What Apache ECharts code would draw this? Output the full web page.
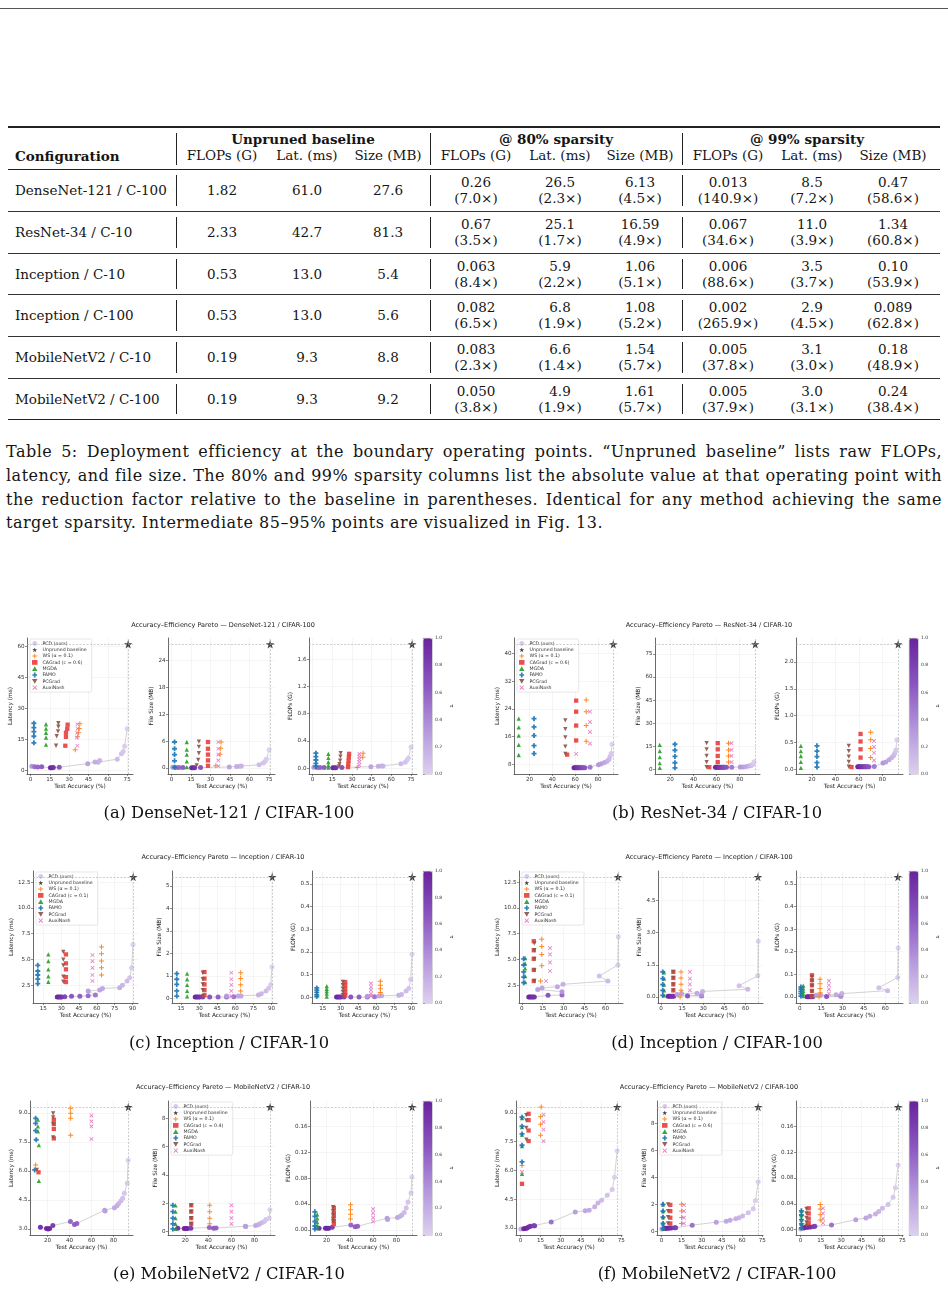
<!DOCTYPE html>
<html>
<head>
<meta charset="utf-8">
<script src="https://cdn.jsdelivr.net/npm/echarts@6/dist/echarts.min.js"></script>
<style>
  body { margin: 0; background: #fff; }
  #page { position: relative; width: 948px; height: 1292px; overflow: hidden; font-family: "DejaVu Serif", serif; color: #151515; }
  .hr { position: absolute; left: 8px; width: 932px; background: #222; }
  .vbar { position: absolute; width: 1px; background: #222; }
  .cell { position: absolute; transform: translate(-50%, -50%); white-space: nowrap; font-size: 13.5px; }
  .left { transform: translate(0, -50%); }
  .bold { font-weight: bold; }
  .cap { position: absolute; left: 6px; width: 936px; font-size: 16px; letter-spacing: 0.5px; line-height: 20px; text-align: justify; text-align-last: justify; white-space: nowrap; }
  .cap.last { text-align-last: left; }
  #chart { position: absolute; left: 0; top: 590px; width: 948px; height: 702px; }
</style>
</head>
<body>
<div id="page">
  <div style="position:absolute;left:0;top:8px;width:948px;height:1px;background:#555"></div>
  <div id="table"></div>
  <div class="cap" style="top:442px">Table 5: Deployment efficiency at the boundary operating points. “Unpruned baseline” lists raw FLOPs,</div>
  <div class="cap" style="top:466px">latency, and file size. The 80% and 99% sparsity columns list the absolute value at that operating point with</div>
  <div class="cap" style="top:490px">the reduction factor relative to the baseline in parentheses. Identical for any method achieving the same</div>
  <div class="cap last" style="top:513px">target sparsity. Intermediate 85–95% points are visualized in Fig. 13.</div>
  <div id="chart"></div>
</div>
<script>
// ---------- table values ----------
const configs = ['DenseNet-121 / C-100', 'ResNet-34 / C-10', 'Inception / C-10', 'Inception / C-100', 'MobileNetV2 / C-10', 'MobileNetV2 / C-100'];
const baseFlops = ['1.82', '2.33', '0.53', '0.53', '0.19', '0.19'];
const baseLat = ['61.0', '42.7', '13.0', '13.0', '9.3', '9.3'];
const baseSize = ['27.6', '81.3', '5.4', '5.6', '8.8', '9.2'];
const s80Flops = [['0.26', '7.0'], ['0.67', '3.5'], ['0.063', '8.4'], ['0.082', '6.5'], ['0.083', '2.3'], ['0.050', '3.8']];
const s80Lat = [['26.5', '2.3'], ['25.1', '1.7'], ['5.9', '2.2'], ['6.8', '1.9'], ['6.6', '1.4'], ['4.9', '1.9']];
const s80Size = [['6.13', '4.5'], ['16.59', '4.9'], ['1.06', '5.1'], ['1.08', '5.2'], ['1.54', '5.7'], ['1.61', '5.7']];
const s99Flops = [['0.013', '140.9'], ['0.067', '34.6'], ['0.006', '88.6'], ['0.002', '265.9'], ['0.005', '37.8'], ['0.005', '37.9']];
const s99Lat = [['8.5', '7.2'], ['11.0', '3.9'], ['3.5', '3.7'], ['2.9', '4.5'], ['3.1', '3.0'], ['3.0', '3.1']];
const s99Size = [['0.47', '58.6'], ['1.34', '60.8'], ['0.10', '53.9'], ['0.089', '62.8'], ['0.18', '48.9'], ['0.24', '38.4']];
const groupHeads = ['Unpruned baseline', '@ 80% sparsity', '@ 99% sparsity'];
const colHeads = ['FLOPs (G)', 'Lat. (ms)', 'Size (MB)'];

// ---------- figure data: PCD sweep (accuracy, latency, size, flops, tau) ----------
const aAcc = [1.0, 3.3, 5.6, 8.7, 15.4, 16.7, 17.7, 22.3, 44.4, 50.0, 52.4, 53.7, 67.3, 70.6, 72.0, 73.0, 75.0];
const aLat = [1.8, 1.6, 1.5, 1.6, 1.1, 1.1, 1.2, 1.4, 3.1, 3.9, 3.8, 4.7, 5.3, 7.9, 9.0, 11.5, 20.0];
const aSize = [0.15, 0.12, 0.1, 0.12, 0.05, 0.05, 0.06, 0.1, 0.25, 0.35, 0.4, 0.45, 0.75, 1.1, 1.5, 2.0, 4.1];
const aFlops = [0.012, 0.01, 0.008, 0.01, 0.005, 0.005, 0.006, 0.009, 0.022, 0.028, 0.03, 0.033, 0.065, 0.085, 0.12, 0.15, 0.31];
const aTau = [0.35, 0.55, 0.6, 0.65, 0.95, 1.0, 0.9, 0.72, 0.28, 0.22, 0.2, 0.17, 0.12, 0.09, 0.06, 0.03, 0.0];
const aBase = [75.8, 61.0, 27.6, 1.82];

const bAcc = [59, 60, 61, 62, 63, 64, 65, 66, 67, 68.5, 73.1, 80.5, 82.9, 85.7, 88.0, 89.6, 90.6, 91.5, 92.3];
const bLat = [7.0, 7.0, 7.0, 7.0, 7.0, 7.0, 7.0, 7.0, 7.0, 7.05, 7.2, 7.9, 8.2, 8.5, 8.9, 9.4, 10.3, 11.1, 13.8];
const bSize = [1.4, 1.4, 1.4, 1.4, 1.4, 1.4, 1.4, 1.4, 1.4, 1.45, 1.5, 1.6, 1.7, 1.9, 2.2, 2.6, 3.0, 3.6, 5.0];
const bFlops = [0.05, 0.05, 0.05, 0.05, 0.05, 0.05, 0.05, 0.05, 0.05, 0.05, 0.055, 0.12, 0.14, 0.18, 0.22, 0.26, 0.3, 0.36, 0.55];
const bTau = [1.0, 0.97, 0.94, 0.9, 0.87, 0.83, 0.8, 0.76, 0.72, 0.68, 0.5, 0.35, 0.3, 0.25, 0.2, 0.15, 0.1, 0.05, 0.0];
const bBase = [93.4, 42.7, 81.3, 2.33];

const cAcc = [26.7, 28.0, 29.2, 30.4, 33.0, 38.7, 45.7, 52.7, 58.8, 52.7, 62.5, 64.7, 79.2, 81.5, 85.4, 87.6, 89.3, 90.4];
const cLat = [1.37, 1.37, 1.37, 1.37, 1.4, 1.44, 1.44, 1.5, 1.56, 1.95, 2.05, 2.2, 2.27, 2.5, 2.92, 3.24, 4.2, 6.47];
const cSize = [0.06, 0.06, 0.06, 0.06, 0.06, 0.06, 0.06, 0.06, 0.07, 0.1, 0.1, 0.11, 0.15, 0.2, 0.33, 0.45, 0.6, 1.4];
const cFlops = [0.001, 0.001, 0.001, 0.001, 0.001, 0.001, 0.001, 0.001, 0.002, 0.004, 0.005, 0.006, 0.009, 0.012, 0.027, 0.038, 0.078, 0.19];
const cTau = [1.0, 0.96, 0.92, 0.88, 0.8, 0.72, 0.65, 0.58, 0.52, 0.3, 0.27, 0.24, 0.2, 0.16, 0.12, 0.08, 0.04, 0.0];
const cBase = [90.6, 13.0, 5.4, 0.53];

const dAcc = [5, 6, 7, 8, 9, 18.8, 28.8, 28.8, 11.4, 14.5, 25.5, 29.5, 61.7, 55.5, 68.8, 69.1];
const dLat = [1.37, 1.37, 1.37, 1.37, 1.37, 1.53, 1.56, 1.89, 2.1, 2.25, 2.37, 2.6, 2.92, 3.4, 4.47, 7.2];
const dSize = [0.03, 0.03, 0.03, 0.03, 0.03, 0.05, 0.05, 0.08, 0.12, 0.16, 0.18, 0.26, 0.36, 0.53, 0.99, 2.6];
const dFlops = [0.001, 0.001, 0.001, 0.001, 0.001, 0.002, 0.003, 0.006, 0.008, 0.009, 0.01, 0.015, 0.028, 0.041, 0.086, 0.216];
const dTau = [1.0, 0.97, 0.94, 0.91, 0.88, 0.7, 0.6, 0.35, 0.3, 0.27, 0.24, 0.2, 0.15, 0.1, 0.05, 0.0];
const dBase = [68.9, 13.0, 5.6, 0.53];

const eAcc = [13.6, 19.1, 20.6, 22.0, 24.9, 40.9, 44.6, 46.7, 72.0, 72.4, 80.9, 83.2, 84.6, 86.7, 88.4, 89.9, 92.5, 93.3];
const eLat = [3.09, 3.02, 3.0, 3.02, 3.17, 3.38, 3.23, 3.28, 3.97, 3.92, 4.1, 4.2, 4.3, 4.44, 4.58, 4.84, 5.36, 6.55];
const eSize = [0.24, 0.22, 0.22, 0.22, 0.24, 0.29, 0.24, 0.25, 0.38, 0.36, 0.43, 0.48, 0.55, 0.64, 0.72, 0.85, 0.95, 1.55];
const eFlops = [0.0026, 0.0025, 0.0025, 0.0025, 0.004, 0.0077, 0.005, 0.0055, 0.018, 0.016, 0.019, 0.021, 0.023, 0.027, 0.034, 0.043, 0.057, 0.082];
const eTau = [0.95, 1.0, 0.98, 0.96, 0.85, 0.6, 0.65, 0.62, 0.3, 0.28, 0.25, 0.22, 0.18, 0.14, 0.1, 0.07, 0.04, 0.0];
const eBase = [93.5, 9.3, 8.8, 0.19];

const fAcc = [0.3, 2.4, 3.7, 4.9, 6.1, 7.4, 9.8, 10.6, 22.9, 40.8, 48.2, 51.1, 55.3, 57.7, 60.4, 64.6, 68.3, 70.0, 72.0];
const fLat = [2.95, 2.96, 2.97, 3.0, 3.05, 3.09, 3.12, 3.12, 3.31, 3.83, 3.9, 3.92, 4.1, 4.3, 4.44, 4.7, 5.0, 5.64, 7.03];
const fSize = [0.17, 0.2, 0.21, 0.22, 0.23, 0.24, 0.25, 0.26, 0.45, 0.67, 0.74, 0.82, 0.92, 0.99, 1.12, 1.36, 1.66, 2.28, 3.67];
const fFlops = [0.001, 0.0026, 0.0036, 0.0036, 0.0038, 0.004, 0.0046, 0.005, 0.0072, 0.0154, 0.018, 0.0205, 0.024, 0.028, 0.033, 0.039, 0.05, 0.065, 0.1];
const fTau = [0.2, 0.95, 1.0, 0.97, 0.93, 0.9, 0.85, 0.8, 0.55, 0.3, 0.26, 0.23, 0.2, 0.17, 0.14, 0.1, 0.06, 0.03, 0.0];
const fBase = [72.0, 9.3, 9.2, 0.19];

// ---------- baselines: [accuracy, value] per method, order WS, CAGrad, MGDA, FAMO, PCGrad, AuxiNash ----------
const aLatM = [
  [[38.3, 22.5], [37.8, 20.2], [37.3, 18.1], [36.5, 16.1], [34.7, 9.9]],
  [[28.8, 22.0], [28.5, 20.0], [27.5, 18.1], [27.5, 16.1], [27.0, 11.8]],
  [[12.0, 22.2], [12.0, 20.1], [12.0, 18.1], [12.0, 15.8], [12.0, 12.3]],
  [[2.6, 22.7], [2.6, 20.6], [2.6, 18.6], [2.6, 16.4], [2.6, 13.2]],
  [[21.6, 22.7], [21.6, 21.0], [21.3, 18.8], [20.3, 16.4], [19.8, 11.8]],
  [[36.4, 22.2], [36.6, 20.1], [36.2, 18.1], [36.0, 15.8], [36.4, 11.8]]
];
const aSizeM = [
  [[38.1, 5.8], [37.8, 4.4], [37.3, 3.1], [34.0, 0.5]],
  [[28.0, 5.8], [28.0, 4.3], [28.0, 3.0], [28.0, 1.7], [28.0, 0.5]],
  [[11.7, 5.8], [11.7, 4.1], [11.7, 3.0], [11.7, 1.5], [11.7, 0.2]],
  [[2.3, 5.8], [2.3, 4.3], [2.3, 3.0], [2.3, 1.6], [2.3, 0.15]],
  [[21.0, 5.9], [21.0, 4.7], [21.0, 3.3], [20.5, 1.8], [19.3, 0.6]],
  [[36.0, 5.8], [36.0, 4.3], [36.0, 3.0], [36.0, 1.7], [36.0, 0.45]]
];
const aFlopsM = [
  [[38.5, 0.22], [38.2, 0.16], [34.0, 0.01]],
  [[27.8, 0.21], [27.6, 0.16], [27.4, 0.11], [27.2, 0.06], [27.0, 0.015]],
  [[12.0, 0.21], [12.0, 0.15], [12.0, 0.09], [12.0, 0.04], [12.0, 0.01]],
  [[2.5, 0.22], [2.5, 0.17], [2.5, 0.12], [2.5, 0.07], [2.5, 0.025]],
  [[21.4, 0.22], [21.2, 0.17], [21.0, 0.11], [20.5, 0.06], [20.0, 0.025]],
  [[35.6, 0.21], [35.6, 0.17], [35.6, 0.13], [35.6, 0.09], [35.6, 0.045]]
];

const bLatM = [
  [[69.7, 26.6], [69.7, 23.2], [69.7, 19.2], [69.7, 14.7]],
  [[60.9, 26.4], [60.9, 23.2], [60.9, 19.2], [60.9, 14.9], [53.0, 10.8]],
  [[10.6, 21.2], [10.6, 18.7], [10.6, 16.3], [10.6, 13.6], [10.6, 10.7]],
  [[24.0, 21.2], [24.0, 18.8], [24.0, 16.3], [24.0, 13.4], [24.0, 11.1]],
  [[51.4, 20.7], [51.4, 18.2], [51.4, 15.8], [51.4, 13.1], [51.4, 11.0]],
  [[73.0, 23.2], [73.0, 20.2], [73.0, 17.4], [73.0, 14.0], [60.9, 11.0]]
];
const bSizeM = [
  [[70.3, 17.1], [70.3, 12.7], [70.3, 8.8], [70.3, 4.8]],
  [[61.0, 17.1], [61.0, 13.1], [61.0, 8.8], [61.0, 4.8], [53.7, 1.5]],
  [[10.9, 16.0], [10.9, 12.0], [10.9, 8.1], [10.9, 4.2], [10.9, 1.1]],
  [[24.0, 16.4], [24.0, 12.5], [24.0, 8.5], [24.0, 4.4], [24.0, 1.1]],
  [[51.4, 17.1], [51.4, 13.1], [51.4, 8.8], [51.4, 4.8], [51.4, 1.5]],
  [[72.9, 17.1], [72.9, 12.7], [72.9, 8.8], [72.9, 4.8]]
];
const bFlopsM = [
  [[70.0, 0.69], [70.0, 0.55], [70.0, 0.39], [70.0, 0.22]],
  [[61.4, 0.66], [61.4, 0.52], [61.4, 0.375], [61.4, 0.22], [53.7, 0.044]],
  [[10.6, 0.44], [10.6, 0.34], [10.6, 0.25], [10.6, 0.14], [10.6, 0.03]],
  [[24.3, 0.44], [24.3, 0.34], [24.3, 0.24], [24.3, 0.125], [24.3, 0.044]],
  [[51.4, 0.44], [51.4, 0.34], [51.4, 0.24], [51.4, 0.14], [51.4, 0.05]],
  [[72.9, 0.53], [72.9, 0.42], [72.9, 0.31], [72.9, 0.17]]
];

const cLatM = [
  [[63.9, 6.21], [63.9, 5.56], [63.9, 4.85], [63.9, 4.2], [63.9, 3.5]],
  [[34.0, 5.5], [34.0, 4.63], [34.0, 4.05], [34.0, 3.3], [34.0, 2.82]],
  [[19.2, 5.5], [19.2, 4.85], [19.2, 4.05], [19.2, 3.37], [19.2, 2.85]],
  [[10.3, 4.44], [10.3, 3.89], [10.3, 3.5], [10.3, 3.1], [10.3, 2.66]],
  [[31.8, 5.73], [31.8, 5.0], [31.8, 4.44], [31.8, 3.34], [31.8, 2.85]],
  [[56.3, 5.44], [56.3, 4.85], [56.3, 4.2], [56.3, 3.5], [56.3, 2.92]]
];
const cSizeM = [
  [[64.4, 1.14], [64.4, 0.88], [64.4, 0.6], [64.4, 0.33]],
  [[34.4, 1.17], [34.4, 0.88], [34.4, 0.62], [34.4, 0.37], [34.4, 0.15]],
  [[20.0, 1.1], [20.0, 0.85], [20.0, 0.6], [20.0, 0.33], [20.0, 0.09]],
  [[11.4, 1.1], [11.4, 0.85], [11.4, 0.62], [11.4, 0.33], [11.4, 0.1]],
  [[33.0, 1.14], [33.0, 0.85], [33.0, 0.62], [33.0, 0.37], [33.0, 0.1]],
  [[56.7, 1.14], [56.7, 0.85], [56.7, 0.6], [56.7, 0.33], [56.7, 0.1]]
];
const cFlopsM = [
  [[63.7, 0.07], [63.7, 0.053], [63.7, 0.037], [63.7, 0.021]],
  [[34.0, 0.067], [34.0, 0.052], [34.0, 0.037], [34.0, 0.022], [34.0, 0.009]],
  [[18.4, 0.049], [18.4, 0.037], [18.4, 0.027], [18.4, 0.016], [18.4, 0.003]],
  [[10.0, 0.041], [10.0, 0.031], [10.0, 0.021], [10.0, 0.01], [10.0, 0.003]],
  [[32.0, 0.068], [32.0, 0.053], [32.0, 0.038], [32.0, 0.024], [32.0, 0.009]],
  [[55.8, 0.061], [55.8, 0.046], [55.8, 0.031], [55.8, 0.016], [55.8, 0.006]]
];

const dLatM = [
  [[14.3, 6.97], [14.3, 6.27], [14.3, 5.5], [14.3, 4.4], [13.5, 2.92]],
  [[8.6, 6.78], [8.6, 5.9], [8.6, 5.07], [8.6, 4.0], [8.6, 2.92]],
  [[2.4, 5.15], [2.4, 4.63], [2.4, 4.15], [2.4, 3.4], [2.4, 2.82]],
  [[1.4, 5.07], [1.4, 4.47], [1.4, 3.8], [1.4, 3.3], [1.4, 2.76]],
  [[9.0, 6.56], [9.0, 5.9], [9.0, 5.07], [9.0, 3.95], [9.0, 2.92]],
  [[20.2, 6.1], [20.2, 5.5], [20.2, 4.72], [20.2, 3.89], [17.4, 2.92]]
];
const dSizeM = [
  [[14.2, 1.17], [14.2, 0.89], [14.2, 0.59], [14.2, 0.31], [13.5, 0.0]],
  [[8.7, 1.17], [8.7, 0.89], [8.7, 0.59], [8.7, 0.31]],
  [[2.1, 1.15], [2.1, 0.86], [2.1, 0.58], [2.1, 0.31], [2.1, 0.08]],
  [[1.2, 1.17], [1.2, 0.86], [1.2, 0.58], [1.2, 0.31], [1.2, 0.08]],
  [[8.7, 1.17], [8.7, 0.89], [8.7, 0.59], [8.7, 0.31]],
  [[20.5, 1.17], [20.5, 0.86], [20.5, 0.59], [20.5, 0.31]]
];
const dFlopsM = [
  [[14.2, 0.078], [14.2, 0.059], [14.2, 0.038], [14.2, 0.019], [13.5, 0.0]],
  [[8.5, 0.096], [8.5, 0.074], [8.5, 0.052], [8.5, 0.027], [8.5, 0.004]],
  [[2.4, 0.05], [2.4, 0.038], [2.4, 0.027], [2.4, 0.015], [2.4, 0.004]],
  [[0.7, 0.044], [0.7, 0.035], [0.7, 0.025], [0.7, 0.015], [0.7, 0.004]],
  [[8.5, 0.089], [8.5, 0.071], [8.5, 0.049], [8.5, 0.024], [8.5, 0.004]],
  [[20.4, 0.071], [20.4, 0.052], [20.4, 0.034], [20.4, 0.015]]
];

const eLatM = [
  [[9.3, 6.31], [41.1, 9.24], [41.1, 8.98], [41.1, 8.72], [41.1, 7.85]],
  [[25.8, 8.65], [25.8, 8.43], [25.8, 8.17], [25.8, 7.68], [11.9, 5.93]],
  [[11.3, 8.65], [11.3, 8.3], [11.3, 8.05], [12.2, 7.33], [12.2, 5.48]],
  [[9.3, 8.72], [9.3, 8.46], [9.3, 8.08], [9.8, 7.61], [8.4, 6.05]],
  [[25.2, 8.98], [25.2, 8.77], [25.2, 8.43], [25.2, 7.73], [10.4, 6.05]],
  [[60.0, 8.86], [60.0, 8.56], [60.0, 8.3], [60.0, 7.65]]
];
const eSizeM = [
  [[41.2, 1.86], [41.2, 1.41], [41.2, 0.95], [41.2, 0.55]],
  [[25.2, 1.86], [25.2, 1.41], [25.2, 0.95], [25.2, 0.55]],
  [[11.6, 1.86], [11.6, 1.41], [11.6, 0.95], [11.6, 0.55], [11.6, 0.19]],
  [[9.3, 1.86], [9.3, 1.41], [9.3, 0.95], [9.3, 0.55], [9.3, 0.19]],
  [[25.2, 1.86], [25.2, 1.41], [25.2, 0.95], [25.2, 0.55]],
  [[60.0, 1.86], [60.0, 1.41], [60.0, 0.95], [60.0, 0.55]]
];
const eFlopsM = [
  [[40.6, 0.039], [40.6, 0.031], [40.6, 0.024], [40.6, 0.017]],
  [[26.3, 0.034], [26.3, 0.027], [26.3, 0.021], [26.3, 0.014], [26.3, 0.009]],
  [[12.0, 0.024], [12.0, 0.018], [12.0, 0.012], [12.0, 0.007], [12.0, 0.0026]],
  [[10.0, 0.028], [10.0, 0.021], [10.0, 0.013], [10.0, 0.006], [10.0, 0.0015]],
  [[25.7, 0.035], [25.7, 0.029], [25.7, 0.023], [25.7, 0.017], [25.7, 0.013]],
  [[60.0, 0.032], [60.0, 0.026], [60.0, 0.019], [60.0, 0.013]]
];

const fLatM = [
  [[1.2, 6.26], [15.5, 9.3], [15.0, 8.79], [15.0, 8.4], [15.0, 7.83]],
  [[6.1, 8.95], [6.1, 8.62], [6.1, 8.08], [6.1, 7.53], [1.2, 5.3]],
  [[1.2, 8.72], [1.2, 8.26], [1.2, 7.87], [1.2, 7.27], [1.2, 5.82]],
  [[1.2, 8.77], [1.2, 8.3], [1.2, 7.9], [1.2, 7.31], [1.2, 6.44]],
  [[4.4, 8.88], [4.4, 8.6], [4.4, 8.22], [4.4, 7.6]],
  [[17.2, 8.91], [17.2, 8.53], [17.2, 8.13], [17.2, 7.53], [1.2, 5.92]]
];
const fSizeM = [
  [[15.0, 1.99], [15.0, 1.49], [15.0, 1.02], [15.0, 0.57]],
  [[6.6, 1.95], [6.6, 1.49], [6.6, 1.0], [6.6, 0.57]],
  [[1.2, 1.99], [1.2, 1.49], [1.2, 1.04], [1.2, 0.57], [1.2, 0.2]],
  [[1.2, 1.99], [1.2, 1.49], [1.2, 1.04], [1.2, 0.57], [1.2, 0.2]],
  [[4.9, 1.99], [4.9, 1.49], [4.9, 1.04], [4.9, 0.57]],
  [[16.8, 1.95], [16.8, 1.49], [16.8, 1.0], [16.8, 0.57]]
];
const fFlopsM = [
  [[14.6, 0.039], [14.6, 0.032], [14.6, 0.023], [14.6, 0.015]],
  [[6.1, 0.033], [6.1, 0.025], [6.1, 0.017], [6.1, 0.01]],
  [[0.7, 0.029], [0.7, 0.0226], [0.7, 0.0154], [0.7, 0.0087], [0.7, 0.0026]],
  [[0.7, 0.029], [0.7, 0.0226], [0.7, 0.0154], [0.7, 0.0087], [0.7, 0.0026]],
  [[4.4, 0.032], [4.4, 0.025], [4.4, 0.018], [4.4, 0.011], [4.4, 0.006]],
  [[16.6, 0.033], [16.6, 0.025], [16.6, 0.017], [16.6, 0.01]]
];

// ---------- tick labels ----------
const aXTicks = ['0', '15', '30', '45', '60', '75'];
const aYTicks = [['0', '15', '30', '45', '60'], ['0', '6', '12', '18', '24'], ['0.0', '0.4', '0.8', '1.2', '1.6']];
const bXTicks = ['20', '40', '60', '80'];
const bYTicks = [['8', '16', '24', '32', '40'], ['0', '15', '30', '45', '60', '75'], ['0.0', '0.5', '1.0', '1.5', '2.0']];
const cXTicks = ['15', '30', '45', '60', '75', '90'];
const cYTicks = [['2.5', '5.0', '7.5', '10.0', '12.5'], ['0', '1', '2', '3', '4', '5'], ['0.0', '0.1', '0.2', '0.3', '0.4', '0.5']];
const dXTicks = ['0', '15', '30', '45', '60'];
const dYTicks = [['2.5', '5.0', '7.5', '10.0', '12.5'], ['0.0', '1.5', '3.0', '4.5'], ['0.0', '0.1', '0.2', '0.3', '0.4', '0.5']];
const eXTicks = ['20', '40', '60', '80'];
const eYTicks = [['3.0', '4.5', '6.0', '7.5', '9.0'], ['0', '2', '4', '6', '8'], ['0.00', '0.04', '0.08', '0.12', '0.16']];
const fXTicks = ['0', '15', '30', '45', '60', '75'];
const fYTicks = [['3.0', '4.5', '6.0', '7.5', '9.0'], ['0', '2', '4', '6', '8'], ['0.00', '0.04', '0.08', '0.12', '0.16']];
const cbTicks = ['0.0', '0.2', '0.4', '0.6', '0.8', '1.0'];

// ---------- table ----------
const table = document.getElementById('table');
const add = (cls, style, text) => {
  const d = document.createElement('div');
  d.className = cls;
  Object.assign(d.style, style);
  if (text !== undefined) d.textContent = text;
  table.appendChild(d);
};
const COLX = [222, 307, 388, 476, 560, 640, 728, 812, 893];
const GROUPX = [303, 556, 807];
const BARX = [176, 430, 682];
const RULES = [169, 211, 253, 294, 336, 378, 419];

add('hr', { top: '126px', height: '1.6px' });
add('hr', { top: '168.5px', height: '1px' });
RULES.slice(1, -1).forEach(y => add('hr', { top: y + 'px', height: '1px', background: '#333' }));
add('hr', { top: '419px', height: '1.4px' });

groupHeads.forEach((t, i) => add('cell bold', { left: GROUPX[i] + 'px', top: '139px' }, t));
add('cell left bold', { left: '15px', top: '156px' }, 'Configuration');
COLX.forEach((x, i) => add('cell', { left: x + 'px', top: '155px' }, colHeads[i % 3]));
BARX.forEach(x => add('vbar', { left: x + 'px', top: '133px', height: '32px' }));

configs.forEach((name, r) => {
  const y0 = RULES[r], y1 = RULES[r + 1], mid = (y0 + y1) / 2;
  add('cell left', { left: '15px', top: mid + 'px' }, name);
  BARX.forEach(x => add('vbar', { left: x + 'px', top: (y0 + 6) + 'px', height: (y1 - y0 - 11) + 'px' }));
  [baseFlops, baseLat, baseSize].forEach((arr, i) => add('cell', { left: COLX[i] + 'px', top: mid + 'px' }, arr[r]));
  [s80Flops, s80Lat, s80Size, s99Flops, s99Lat, s99Size].forEach((arr, i) => {
    add('cell', { left: COLX[i + 3] + 'px', top: (mid - 8) + 'px' }, arr[r][0]);
    add('cell', { left: COLX[i + 3] + 'px', top: (mid + 8) + 'px' }, '(' + arr[r][1] + '×)');
  });
});

// ---------- figure ----------
const STAR = 'path://M50,0L61.2,34.5L97.6,34.5L68.2,55.9L79.4,90.5L50,69.1L20.6,90.5L31.8,55.9L2.4,34.5L38.8,34.5Z';
const PLUS = 'path://M40,0H60V40H100V60H60V100H40V60H0V40H40Z';
const FAT_PLUS = 'path://M32,0H68V32H100V68H68V100H32V68H0V32H32Z';
const TRI_DOWN = 'path://M0,0H100L50,87Z';
const CROSS = 'path://M14,0L50,36L86,0L100,14L64,50L100,86L86,100L50,64L14,100L0,86L36,50L0,14Z';

const METHODS = [
  { name: () => 'WS (α = 0.1)', symbol: PLUS, color: '#ff7f0e', size: 5 },
  { name: c => `CAGrad (c = ${c})`, symbol: 'rect', color: '#e8423f', size: 4.3 },
  { name: () => 'MGDA', symbol: 'triangle', color: '#2ca02c', size: 4.3 },
  { name: () => 'FAMO', symbol: FAT_PLUS, color: '#1f77b4', size: 5 },
  { name: () => 'PCGrad', symbol: TRI_DOWN, color: '#8c564b', size: 4.3 },
  { name: () => 'AuxiNash', symbol: CROSS, color: '#e377c2', size: 4.2 }
];
const Y_NAMES = ['Latency (ms)', 'File Size (MB)', 'FLOPs (G)'];
const PURPLES = ['#ddd0f0', '#b496dc', '#8a55bf', '#6a229e'];

const ROWS = [
  { top: 48, h: 136, title: 35, cap: 224 },
  { top: 281, h: 132, title: 267, cap: 454 },
  { top: 511, h: 134, title: 497, cap: 685 }
];

const FIGS = [
  { tag: '(a) DenseNet-121 / CIFAR-100', title: 'DenseNet-121 / CIFAR-100', c: '0.6', acc: aAcc, tau: aTau, vals: [aLat, aSize, aFlops], base: aBase, methods: [aLatM, aSizeM, aFlopsM], xTicks: aXTicks, yTicks: aYTicks, panels: [[27, 133], [168, 275], [309, 417]], cb: 423, legendPanel: 0 },
  { tag: '(b) ResNet-34 / CIFAR-10', title: 'ResNet-34 / CIFAR-10', c: '0.6', acc: bAcc, tau: bTau, vals: [bLat, bSize, bFlops], base: bBase, methods: [bLatM, bSizeM, bFlopsM], xTicks: bXTicks, yTicks: bYTicks, panels: [[514, 618], [655, 760], [796, 903]], cb: 909, legendPanel: 0 },
  { tag: '(c) Inception / CIFAR-10', title: 'Inception / CIFAR-10', c: '0.1', acc: cAcc, tau: cTau, vals: [cLat, cSize, cFlops], base: cBase, methods: [cLatM, cSizeM, cFlopsM], xTicks: cXTicks, yTicks: cYTicks, panels: [[33, 138], [172, 277], [312, 417]], cb: 423, legendPanel: 0 },
  { tag: '(d) Inception / CIFAR-100', title: 'Inception / CIFAR-100', c: '0.1', acc: dAcc, tau: dTau, vals: [dLat, dSize, dFlops], base: dBase, methods: [dLatM, dSizeM, dFlopsM], xTicks: dXTicks, yTicks: dYTicks, panels: [[519, 623], [658, 763], [796, 903]], cb: 909, legendPanel: 0 },
  { tag: '(e) MobileNetV2 / CIFAR-10', title: 'MobileNetV2 / CIFAR-10', c: '0.4', acc: eAcc, tau: eTau, vals: [eLat, eSize, eFlops], base: eBase, methods: [eLatM, eSizeM, eFlopsM], xTicks: eXTicks, yTicks: eYTicks, panels: [[30, 133], [168, 275], [310, 417]], cb: 423, legendPanel: 1 },
  { tag: '(f) MobileNetV2 / CIFAR-100', title: 'MobileNetV2 / CIFAR-100', c: '0.6', acc: fAcc, tau: fTau, vals: [fLat, fSize, fFlops], base: fBase, methods: [fLatM, fSizeM, fFlopsM], xTicks: fXTicks, yTicks: fYTicks, panels: [[516, 622], [657, 763], [796, 903]], cb: 909, legendPanel: 1 }
];

// matplotlib-style autoscale: data range plus 5% on each side
const pad = (vals) => {
  const lo = Math.min(...vals), hi = Math.max(...vals), m = (hi - lo) * 0.05;
  return [lo - m, hi + m];
};
const labelFor = (labels) => (v) => labels.find(s => Math.abs(parseFloat(s) - v) < 1e-9) || '';

const option = {
  animation: false,
  textStyle: { fontFamily: 'DejaVu Sans' },
  grid: [], xAxis: [], yAxis: [], series: [], visualMap: [], legend: [], graphic: []
};

FIGS.forEach((f, fi) => {
  const row = ROWS[Math.floor(fi / 2)];
  const right = fi % 2 === 1;
  const pcdIdx = [];

  option.graphic.push({
    type: 'text', x: right ? 709 : 223, y: row.title,
    style: { text: 'Accuracy–Efficiency Pareto — ' + f.title, fontSize: 6.5, fill: '#222', fontFamily: 'DejaVu Sans', align: 'center', verticalAlign: 'middle' }
  });
  option.graphic.push({
    type: 'text', x: right ? 717 : 229, y: row.cap,
    style: { text: f.tag, fontSize: 16.3, fill: '#111', fontFamily: 'DejaVu Serif', align: 'center', verticalAlign: 'middle' }
  });

  f.panels.forEach(([x0, x1], pi) => {
    const gi = option.grid.length;
    const vals = f.vals[pi];
    const pcd = f.acc.map((a, i) => [a, vals[i], f.tau[i]]);
    const meth = f.methods[pi];
    const xs = [...f.acc, f.base[0], ...meth.flat().map(p => p[0])];
    const ys = [...vals, f.base[pi + 1], ...meth.flat().map(p => p[1])];
    const [xmin, xmax] = pad(xs);
    const [ymin, ymax] = pad(ys);
    const xt = f.xTicks.map(Number), yl = f.yTicks[pi], yt = yl.map(Number);
    const maxLen = Math.max(...yl.map(s => s.length));

    option.grid.push({ left: x0, top: row.top, width: x1 - x0, height: row.h, show: false });
    option.xAxis.push({
      gridIndex: gi, type: 'value', min: xmin, max: xmax,
      axisLine: { show: true, onZero: false, lineStyle: { color: '#444', width: 0.8 } },
      axisTick: { show: true, length: 2, customValues: xt, lineStyle: { color: '#444', width: 0.6 } },
      axisLabel: { customValues: xt, formatter: labelFor(f.xTicks), fontSize: 5.6, color: '#333', margin: 2.5 },
      splitLine: { show: true, lineStyle: { color: '#ebebeb', width: 0.5 } },
      name: 'Test Accuracy (%)', nameLocation: 'middle', nameGap: 9,
      nameTextStyle: { fontSize: 5.8, color: '#222', verticalAlign: 'top' }
    });
    option.yAxis.push({
      gridIndex: gi, type: 'value', min: ymin, max: ymax,
      axisLine: { show: true, onZero: false, lineStyle: { color: '#444', width: 0.8 } },
      axisTick: { show: true, length: 2, customValues: yt, lineStyle: { color: '#444', width: 0.6 } },
      axisLabel: { customValues: yt, formatter: labelFor(yl), fontSize: 5.6, color: '#333', margin: 2.5 },
      splitLine: { show: true, lineStyle: { color: '#ebebeb', width: 0.5 } },
      name: Y_NAMES[pi], nameLocation: 'middle', nameGap: 6 + 3 * maxLen,
      nameTextStyle: { fontSize: 5.8, color: '#222' }
    });

    const ax = { xAxisIndex: gi, yAxisIndex: gi };
    option.series.push({
      ...ax, type: 'line', name: 'PCD path', data: pcd, showSymbol: false, silent: true,
      lineStyle: { color: '#cdcdcd', width: 0.9 }, z: 1
    });
    pcdIdx.push(option.series.length);
    option.series.push({
      ...ax, type: 'scatter', name: 'PCD (ours)', data: pcd, symbolSize: 5,
      itemStyle: { color: '#d6c5ec', opacity: 0.95 }, z: 2
    });
    option.series.push({
      ...ax, type: 'scatter', name: 'Unpruned baseline', data: [[f.base[0], f.base[pi + 1]]],
      symbol: STAR, symbolSize: 8.5, itemStyle: { color: '#111' }, z: 4,
      markLine: {
        silent: true, symbol: 'none', label: { show: false },
        lineStyle: { color: '#aaaaaa', type: [2, 1.5], width: 0.6 },
        data: [{ yAxis: f.base[pi + 1] }, { xAxis: f.base[0] }]
      }
    });
    METHODS.forEach((m, mi) => {
      option.series.push({
        ...ax, type: 'scatter', name: m.name(f.c), data: meth[mi], symbol: m.symbol,
        symbolSize: m.size, itemStyle: { color: m.color, opacity: 0.92 }, z: 3
      });
    });

    if (pi === f.legendPanel) {
      option.legend.push({
        orient: 'vertical', left: x0 + 3, top: row.top + 1, selectedMode: false,
        data: [
          { name: 'PCD (ours)', itemStyle: { color: '#d6c5ec' } },
          'Unpruned baseline', ...METHODS.map(m => m.name(f.c))
        ],
        itemWidth: 5.5, itemHeight: 4.8, itemGap: 1.3,
        textStyle: { fontSize: 4.7, color: '#333' },
        backgroundColor: 'rgba(255,255,255,0.9)', borderColor: '#cfcfcf', borderWidth: 0.5,
        borderRadius: 1.5, padding: [2, 5, 2, 2]
      });
    }
  });

  // colorbar for tau
  option.visualMap.push({
    type: 'continuous', min: 0, max: 1, dimension: 2, seriesIndex: pcdIdx,
    inRange: { color: PURPLES }, left: f.cb, top: row.top, itemWidth: 9, itemHeight: row.h,
    calculable: false, padding: 0, borderColor: '#999', borderWidth: 0.5, hoverLink: false
  });
  const cg = option.grid.length;
  option.grid.push({ left: f.cb, top: row.top, width: 9, height: row.h, show: false });
  option.xAxis.push({ gridIndex: cg, type: 'value', min: 0, max: 1, show: false });
  option.yAxis.push({
    gridIndex: cg, type: 'value', min: 0, max: 1, position: 'right',
    axisLine: { show: false }, splitLine: { show: false },
    axisTick: { show: true, length: 2, customValues: cbTicks.map(Number), lineStyle: { color: '#444', width: 0.5 } },
    axisLabel: { customValues: cbTicks.map(Number), formatter: labelFor(cbTicks), fontSize: 4.5, color: '#333', margin: 3 },
    name: 'τ', nameLocation: 'middle', nameGap: 16, nameRotate: -90,
    nameTextStyle: { fontSize: 5.5, color: '#222' }
  });
});

const chart = echarts.init(document.getElementById('chart'), null, { renderer: 'canvas' });
chart.setOption(option);
</script>
</body>
</html>
